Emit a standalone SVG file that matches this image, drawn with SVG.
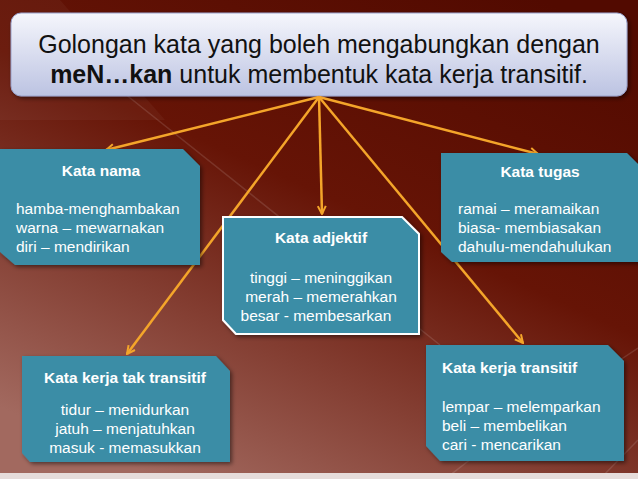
<svg xmlns="http://www.w3.org/2000/svg" width="638" height="479" viewBox="0 0 638 479">
<defs>
<linearGradient id="bg" x1="0.85" y1="0" x2="0.25" y2="1">
<stop offset="0" stop-color="#520a00"/>
<stop offset="0.45" stop-color="#661406"/>
<stop offset="1" stop-color="#a2695f"/>
</linearGradient>
<linearGradient id="tg" x1="0" y1="0" x2="0" y2="1">
<stop offset="0" stop-color="#f5f6fc"/>
<stop offset="1" stop-color="#bcc3e2"/>
</linearGradient>
<filter id="sh" x="-10%" y="-10%" width="120%" height="130%">
<feDropShadow dx="2" dy="2" stdDeviation="2" flood-color="#000" flood-opacity="0.5"/>
</filter>
<marker id="ah" viewBox="0 0 10 10" refX="9" refY="5" markerWidth="10" markerHeight="10" markerUnits="userSpaceOnUse" orient="auto">
<path d="M1,1 L9,5 L1,9" fill="none" stroke="#f4a52a" stroke-width="2"/>
</marker>
<style>
.box{fill:#3a8da6;filter:url(#sh);}
.lbl{font-family:"Liberation Sans",Arial,sans-serif;font-weight:bold;font-size:15.5px;fill:#fff;}
.txt{font-family:"Liberation Sans",Arial,sans-serif;font-size:15.5px;fill:#fff;}
.mid{text-anchor:middle;}
.con{stroke:#f4a52a;stroke-width:2.5;fill:none;marker-end:url(#ah);}
.deco{stroke:#ffffff;stroke-opacity:0.12;stroke-width:1.5;fill:none;}
</style>
</defs>
<rect width="638" height="479" fill="url(#bg)"/>
<path d="M0,0 L60,0 L165,120 L0,120 Z" fill="#ffffff" fill-opacity="0.04"/>
<path class="deco" d="M95,70 L440,345"/>
<path class="deco" d="M445,479 L480,452"/>
<path class="deco" d="M600,479 L638,440"/>
<path class="deco" d="M620,360 L638,348"/>
<rect x="0" y="473" width="638" height="6" fill="#e6dcda"/>

<g id="title">
<rect x="11" y="13" width="616" height="83" rx="10" fill="url(#tg)" stroke="#9aa2cc" stroke-width="1" filter="url(#sh)"/>
<text x="319" y="53" text-anchor="middle" font-family="'Liberation Sans',Arial,sans-serif" font-size="25" fill="#111">Golongan kata yang boleh mengabungkan dengan</text>
<text x="319" y="83" text-anchor="middle" font-family="'Liberation Sans',Arial,sans-serif" font-size="25" fill="#111"><tspan font-weight="bold">meN…kan</tspan> untuk membentuk kata kerja transitif.</text>
</g>

<g id="connectors">
<line class="con" x1="319" y1="97" x2="106" y2="150"/>
<line class="con" x1="319" y1="97" x2="322" y2="214"/>
<line class="con" x1="319" y1="97" x2="538" y2="154"/>
<line class="con" x1="319" y1="97" x2="127" y2="354"/>
<line class="con" x1="319" y1="97" x2="523" y2="343"/>
</g>

<g id="kata-nama">
<path class="box" d="M0,149 L183,149 L200,166 L200,265 L15,265 L0,252 Z"/>
<text class="lbl mid" x="101" y="176">Kata nama</text>
<text class="txt" x="16" y="214">hamba-menghambakan</text>
<text class="txt" x="16" y="233">warna – mewarnakan</text>
<text class="txt" x="16" y="252">diri – mendirikan</text>
</g>

<g id="kata-adjektif">
<path class="box" d="M223,217 L402,217 L419,234 L419,334 L236,334 L223,320 Z" stroke="#fff" stroke-width="2"/>
<text class="lbl mid" x="321" y="243">Kata adjektif</text>
<text class="txt mid" x="321" y="283">tinggi – meninggikan</text>
<text class="txt mid" x="321" y="302">merah – memerahkan</text>
<text class="txt mid" x="316" y="321">besar - membesarkan</text>
</g>

<g id="kata-tugas">
<path class="box" d="M441,153 L627,153 L640,166 L640,262 L452,262 L441,252 Z"/>
<text class="lbl mid" x="540" y="177">Kata tugas</text>
<text class="txt" x="458" y="214">ramai – meramaikan</text>
<text class="txt" x="458" y="233">biasa- membiasakan</text>
<text class="txt" x="458" y="252">dahulu-mendahulukan</text>
</g>

<g id="kata-kerja-tak-transitif">
<path class="box" d="M22,356 L216,356 L230,371 L230,462 L30,462 L22,453 Z"/>
<text class="lbl mid" x="125" y="383">Kata kerja tak transitif</text>
<text class="txt mid" x="125" y="415">tidur – menidurkan</text>
<text class="txt mid" x="125" y="434">jatuh – menjatuhkan</text>
<text class="txt mid" x="125" y="453">masuk - memasukkan</text>
</g>

<g id="kata-kerja-transitif">
<path class="box" d="M426,345 L608,345 L624,361 L624,461 L440,461 L426,446 Z"/>
<text class="lbl" x="442" y="373" font-size="17.5">Kata kerja transitif</text>
<text class="txt" x="442" y="412">lempar – melemparkan</text>
<text class="txt" x="442" y="431">beli – membelikan</text>
<text class="txt" x="442" y="450">cari - mencarikan</text>
</g>
</svg>
